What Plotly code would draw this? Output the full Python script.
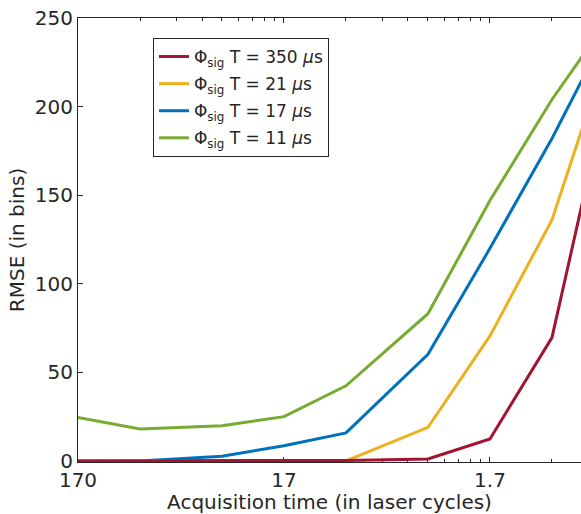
import plotly.graph_objects as go

# underlying log-spaced x positions (axis shows custom labels)
x_vals = [10, 20, 50, 100, 200, 500, 1000, 2000, 5000]
tick_vals = [10, 100, 1000]
tick_text = ["170", "17", "1.7"]

rmse_350 = [0, 0, 0, 0, 0.3, 1.1, 12.4, 69.6, 275]
rmse_21 = [0, 0, 0, 0, 0, 19, 70.6, 136, 276]
rmse_17 = [0, 0, 2.6, 8.6, 15.8, 60.2, 120, 182, 272]
rmse_11 = [24.6, 18.0, 19.9, 25, 42.4, 83.1, 147, 204, 270]

names = ["Φ<sub>sig</sub> T = 350 <i>μ</i>s",
         "Φ<sub>sig</sub> T = 21 <i>μ</i>s",
         "Φ<sub>sig</sub> T = 17 <i>μ</i>s",
         "Φ<sub>sig</sub> T = 11 <i>μ</i>s"]
series = [rmse_350, rmse_21, rmse_17, rmse_11]
colors = ["#A2142F", "#EDB120", "#0072BD", "#77AC30"]

fig = go.Figure()
# draw order: green, blue, yellow, red (red on top), legend order red first
for i in [3, 2, 1, 0]:
    fig.add_trace(go.Scatter(
        x=x_vals, y=series[i], mode="lines", name=names[i],
        legendgroup="g%d" % i,
        line=dict(color=colors[i], width=3), legendrank=i + 1))

axis_font = dict(family="DejaVu Sans", size=20, color="#262626")

fig.update_layout(
    width=581, height=514,
    margin=dict(l=78, r=0, t=18, b=52),
    paper_bgcolor="white", plot_bgcolor="white",
    font=axis_font,
    showlegend=True,
    legend=dict(x=0.149, y=0.955, xanchor="left", yanchor="top",
                bordercolor="#262626", borderwidth=1, bgcolor="white",
                font=dict(family="DejaVu Sans", size=17, color="#262626"),
                itemwidth=30, tracegroupgap=2),
)
fig.update_xaxes(
    type="log", range=[1, 3.442],
    tickvals=tick_vals, ticktext=tick_text,
    ticks="inside", ticklen=5, tickcolor="#262626",
    minor=dict(ticks="inside", ticklen=3, dtick="D1", tickcolor="#262626", showgrid=False),
    showline=True, linecolor="#262626", linewidth=1, mirror="allticks",
    showgrid=False, zeroline=False, layer="below traces",
    title=dict(text="Acquisition time (in laser cycles)", font=axis_font, standoff=2),
    tickfont=axis_font,
)
fig.update_yaxes(
    range=[-0.6, 250], tickvals=[0, 50, 100, 150, 200, 250],
    ticks="inside", ticklen=5, tickcolor="#262626",
    showline=True, linecolor="#262626", linewidth=1, mirror=False,
    showgrid=False, zeroline=False, layer="below traces",
    title=dict(text="RMSE (in bins)", font=axis_font, standoff=4),
    tickfont=axis_font,
)

fig.write_html("out.html")
